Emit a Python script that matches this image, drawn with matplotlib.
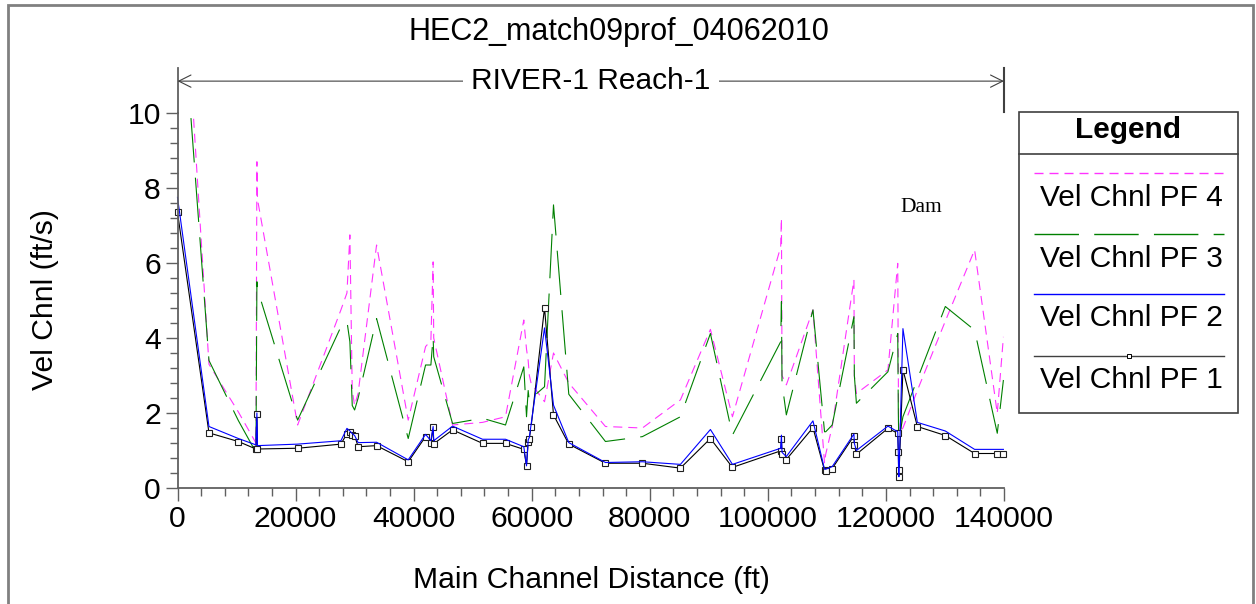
import matplotlib
matplotlib.use('Agg')
import matplotlib.pyplot as plt
from matplotlib.lines import Line2D
from matplotlib.patches import Rectangle
from matplotlib.ticker import MultipleLocator, FormatStrFormatter

plt.rcParams['font.family'] = ['Liberation Sans', 'DejaVu Sans']
plt.rcParams['lines.scale_dashes'] = False

W, H = 1256, 604

# main channel distance of each cross section (ft)
station = [0, 5330, 10300, 13290, 13450, 13550, 20350, 27680, 28700, 29200,
           29600, 30000, 30600, 33720, 39080, 42020, 42920, 43300, 43400, 46590,
           51670, 55560, 58660, 59120, 59400, 59600, 59900, 62170, 63690, 66280,
           72490, 78750, 85190, 90270, 94000, 102170, 102300, 102400, 103130, 107640,
           109600, 109800, 110900, 114580, 114650, 115000, 120340, 122000, 122100, 122150,
           122200, 122880, 125320, 130060, 135020, 138860, 139900]

pf1 = [7.35, 1.47, 1.24, 1.04, 1.97, 1.04, 1.06, 1.17, 1.45, 1.50,
       1.42, 1.40, 1.10, 1.13, 0.70, 1.37, 1.20, 1.62, 1.18, 1.55,
       1.19, 1.19, 1.03, 0.59, 1.24, 1.32, 1.64, 4.81, 1.95, 1.17,
       0.66, 0.66, 0.53, 1.32, 0.55, 0.99, 1.30, 0.90, 0.76, 1.61,
       0.47, 0.45, 0.52, 1.39, 1.14, 0.90, 1.59, 1.46, 0.97, 0.48,
       0.30, 3.16, 1.64, 1.40, 0.92, 0.92, 0.92]

pf2 = [7.75, 1.64, 1.32, 1.15, 2.00, 1.13, 1.17, 1.26, 1.59, 1.52,
       1.45, 1.40, 1.21, 1.22, 0.75, 1.43, 1.26, 1.64, 1.26, 1.65,
       1.30, 1.30, 1.10, 0.59, 1.28, 1.35, 1.70, 4.27, 2.21, 1.21,
       0.68, 0.70, 0.63, 1.56, 0.63, 1.06, 1.41, 0.95, 0.84, 1.79,
       0.50, 0.50, 0.57, 1.44, 1.19, 1.00, 1.65, 1.50, 0.90, 0.40,
       0.30, 4.25, 1.75, 1.52, 1.03, 1.03, 1.03]

pf3 = [14.7, 3.40, 1.80, 0.95, 5.50, 5.30, 1.81, 4.30, 4.45, 3.90,
       2.20, 2.08, 2.40, 4.52, 1.32, 3.28, 3.28, 4.04, 3.50, 1.72,
       1.86, 1.68, 3.23, 1.90, 2.60, 2.30, 2.39, 2.70, 7.55, 2.50,
       1.24, 1.37, 1.90, 4.12, 1.41, 3.90, 4.97, 2.80, 1.95, 4.75,
       1.50, 1.50, 1.68, 4.57, 3.00, 2.26, 3.10, 4.12, 2.00, 1.50,
       1.30, 1.90, 2.90, 4.84, 4.21, 1.46, 2.88]

pf4 = [16.7, 3.30, 2.03, 1.20, 8.70, 7.70, 1.68, 4.75, 5.20, 6.75,
       2.60, 2.20, 2.53, 6.48, 1.81, 3.77, 3.93, 6.03, 4.00, 1.68,
       1.75, 1.90, 4.48, 3.70, 3.40, 3.00, 2.79, 2.30, 3.60, 2.80,
       1.64, 1.60, 2.35, 4.23, 1.90, 6.43, 7.19, 3.00, 2.75, 4.75,
       0.66, 0.90, 1.64, 5.55, 3.00, 2.52, 3.15, 5.99, 3.00, 1.80,
       1.46, 1.60, 2.60, 4.45, 6.35, 1.99, 4.03]

names = ['Vel Chnl PF 4', 'Vel Chnl PF 3', 'Vel Chnl PF 2', 'Vel Chnl PF 1']

sty4 = dict(color='#ff33ff', lw=0.8, dashes=(6.5, 4.3))
sty3 = dict(color='#008000', lw=0.8, dashes=(32, 11))
sty2 = dict(color='#0000ff', lw=0.8)
sty1 = dict(color='black', lw=0.8, marker='s', ms=4.3, mfc='white', mec='#202020', mew=0.8)

fig = plt.figure(figsize=(W / 100, H / 100), dpi=100)
ax = fig.add_axes([177.5 / W, 116 / H, 826.5 / W, 375 / H])

ax.plot(station, pf4, **sty4)
ax.plot(station, pf3, **sty3)
ax.plot(station, pf1, clip_on=False, **sty1)
ax.plot(station, pf2, clip_on=False, **sty2)

ax.set_xlim(0, 140000)
ax.set_ylim(0, 10)
ax.xaxis.set_major_locator(MultipleLocator(20000))
ax.xaxis.set_minor_locator(MultipleLocator(4000))
ax.xaxis.set_major_formatter(FormatStrFormatter('%d'))
ax.yaxis.set_major_locator(MultipleLocator(2))
ax.yaxis.set_minor_locator(MultipleLocator(0.4))

for s in ['top', 'right']:
    ax.spines[s].set_visible(False)
for s in ['left', 'bottom']:
    ax.spines[s].set_color('#606060')
    ax.spines[s].set_linewidth(1.3)

ax.tick_params(which='major', direction='out', length=9, width=1, color='#606060',
               labelsize=21.7, pad=3)
ax.tick_params(which='minor', direction='out', length=5.5, width=1, color='#606060')

# reach bounds and label above the plot
top = 11.2
ax.plot([0, 0], [10, top], color='#606060', lw=1.3, clip_on=False)
ax.plot([140000, 140000], [10.03, top], color='#404040', lw=1.5, clip_on=False)
ax.annotate('', xy=(0, 10.85), xytext=(140000, 10.85),
            arrowprops=dict(arrowstyle='<->', color='#404040', lw=0.8,
                            shrinkA=0, shrinkB=0, mutation_scale=22),
            annotation_clip=False)
ax.text(70000, 10.85, 'RIVER-1 Reach-1', ha='center', va='center', fontsize=21.5,
        bbox=dict(facecolor='white', edgecolor='none', pad=6), clip_on=False)

ax.text(126000, 7.49, 'Dam', family='Liberation Serif', fontsize=15.5,
        ha='center', va='center')

fig.text(619 / W, 1 - 32 / H, 'HEC2_match09prof_04062010', ha='center', va='center',
         fontsize=22)
fig.text(591 / W, 1 - 580 / H, 'Main Channel Distance (ft)', ha='center', va='center',
         fontsize=21.7)
fig.text(45 / W, 1 - 300 / H, 'Vel Chnl (ft/s)', ha='center', va='center',
         rotation=90, fontsize=21.7)


def fx(x):
    return x / W


def fy(y):
    return 1 - y / H


# legend box drawn by hand
fig.add_artist(Rectangle((fx(1019), fy(413)), (1238 - 1019) / W, (413 - 112) / H,
                         transform=fig.transFigure, fill=False, edgecolor='#404040', lw=1.2))
fig.add_artist(Line2D([fx(1019), fx(1238)], [fy(154), fy(154)],
                      transform=fig.transFigure, color='#404040', lw=1.2))
fig.text(fx(1128), fy(130), 'Legend', ha='center', va='center', fontsize=21.5,
         fontweight='bold')

line_y = [172.5, 233.5, 293.5, 355.5]
text_y = [198, 259, 318, 380]
styles = [dict(sty4, lw=1), dict(sty3, lw=1), dict(sty2, lw=1), dict(color='#404040', lw=1)]
for name, st, ly, ty in zip(names, styles, line_y, text_y):
    fig.add_artist(Line2D([fx(1034), fx(1224)], [fy(ly), fy(ly)],
                          transform=fig.transFigure, **st))
    fig.text(fx(1040), fy(ty), name, ha='left', va='center', fontsize=21.5)
fig.add_artist(Line2D([fx(1129)], [fy(355.5)], transform=fig.transFigure, marker='s',
                      ms=2.5, mfc='white', mec='black', mew=0.7, lw=0))

# outer frame
fig.add_artist(Rectangle((fx(8), fy(620)), (1253 - 8) / W, (620 - 5) / H,
                         transform=fig.transFigure, fill=False, edgecolor='#808080', lw=2))

fig.savefig('out.png', dpi=100)
